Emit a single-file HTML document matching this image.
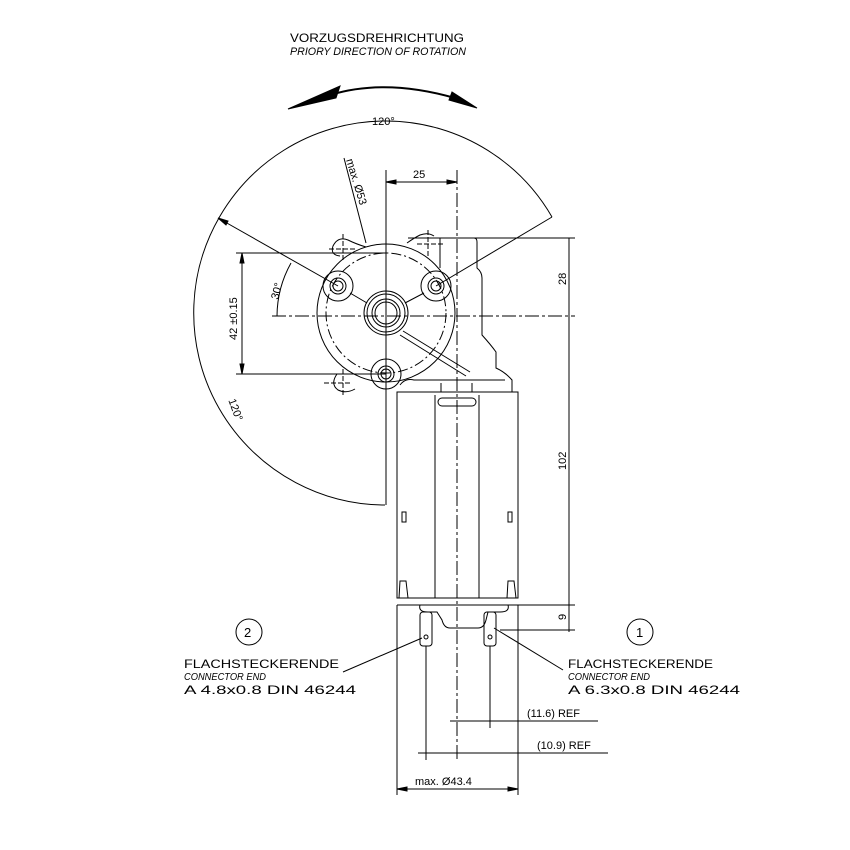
<!DOCTYPE html>
<html><head><meta charset="utf-8"><style>html,body{margin:0;padding:0;background:#fff}svg{display:block}text{font-family:"Liberation Sans",sans-serif;fill:#000}</style></head>
<body>
<svg width="850" height="850" viewBox="0 0 850 850" xmlns="http://www.w3.org/2000/svg" fill="none" stroke="#000" stroke-width="1">
<text x="290" y="42" font-size="12" textLength="174" lengthAdjust="spacingAndGlyphs" stroke="none">VORZUGSDREHRICHTUNG</text>
<text x="290" y="55" font-size="11" font-style="italic" textLength="176" lengthAdjust="spacingAndGlyphs" stroke="none">PRIORY DIRECTION OF ROTATION</text>
<path d="M330,95 Q385,78 455,98" stroke-width="2"/>
<polygon points="288,109 340,86 336,98" fill="#000"/>
<polygon points="477,108 452,92 449,100" fill="#000"/>
<path d="M552,217 A192,192 0 1 0 385,505" />
<text x="372" y="125" font-size="11" stroke="none">120°</text>
<text x="225" y="405" font-size="11" stroke="none" transform="rotate(70 230 405)">120°</text>
<line x1="218" y1="218" x2="338" y2="286"/>
<line x1="436" y1="286" x2="552" y2="217"/>
<polygon points="218,218 228,221 226,225" fill="#000"/>
<line x1="344" y1="158" x2="366" y2="243"/>
<text x="346" y="160" font-size="11" stroke="none" transform="rotate(73 346 160)">max. Ø53</text>
<path d="M291,263 A110,110 0 0 0 277,316"/>
<text x="278" y="300" font-size="11" stroke="none" transform="rotate(-75 278 300)">30°</text>
<circle cx="386" cy="313" r="69"/>
<circle cx="386" cy="313" r="60" stroke-dasharray="10,3,2,3"/>
<circle cx="386" cy="313" r="22"/>
<circle cx="386" cy="313" r="19"/>
<circle cx="386" cy="313" r="14"/>
<circle cx="386" cy="313" r="11"/>
<circle cx="338" cy="286" r="15"/><circle cx="338" cy="286" r="8"/><circle cx="338" cy="286" r="5"/>
<circle cx="436" cy="286" r="15"/><circle cx="436" cy="286" r="8"/><circle cx="436" cy="286" r="5"/>
<circle cx="386" cy="374" r="15"/><circle cx="386" cy="374" r="8"/><circle cx="386" cy="374" r="5"/>
<line x1="350" y1="293" x2="367" y2="303"/><line x1="424" y1="293" x2="405" y2="303"/>
<line x1="386" y1="335" x2="386" y2="359"/>
<line x1="403" y1="331" x2="470" y2="372"/><line x1="400" y1="335" x2="466" y2="376"/>
<!-- lugs -->
<path d="M340,256 Q330,255 333,246 Q338,236 348,240 Q356,244 366,247"/>
<path d="M407,243 Q414,238 420,235 Q428,232 434,236"/>
<path d="M337,374 Q330,384 338,390 Q346,394 355,389"/>
<g stroke-dasharray="5,2">
<line x1="329" y1="249" x2="355" y2="249"/><line x1="343" y1="234" x2="343" y2="262"/>
<line x1="417" y1="244" x2="443" y2="244"/><line x1="428" y1="230" x2="428" y2="256"/>
<line x1="324" y1="383" x2="352" y2="383"/><line x1="343" y1="369" x2="343" y2="397"/>
</g>
<path d="M440,238 H474 Q477,238 477,242 V268 Q482,272 482,278 V335 Q491,345 496,352 V368 Q505,372 512,380 V392"/>
<line x1="440" y1="238" x2="440" y2="268"/>
<path d="M400,385 Q405,378 414,380 H505"/>
<line x1="386" y1="170" x2="386" y2="505"/>
<line x1="457" y1="170" x2="457" y2="760" stroke-dasharray="14,3,3,3"/>
<line x1="272" y1="316" x2="575" y2="316" stroke-dasharray="14,3,3,3"/>
<line x1="236" y1="253" x2="386" y2="253"/>
<line x1="236" y1="374" x2="386" y2="374"/>
<line x1="408" y1="238" x2="575" y2="238"/>
<line x1="386" y1="182" x2="457" y2="182"/><text x="413" y="178" font-size="11" stroke="none">25</text>
<polygon points="386,182 396,180 396,184" fill="#000"/><polygon points="457,182 447,180 447,184" fill="#000"/>
<line x1="242" y1="253" x2="242" y2="374"/>
<polygon points="242,253 240,263 244,263" fill="#000"/><polygon points="242,374 240,364 244,364" fill="#000"/>
<text x="237" y="340" font-size="11" stroke="none" transform="rotate(-90 237 340)">42 ±0.15</text>
<line x1="569" y1="238" x2="569" y2="632"/>
<text x="566" y="285" font-size="11" stroke="none" transform="rotate(-90 566 285)">28</text>
<text x="566" y="470" font-size="11" stroke="none" transform="rotate(-90 566 470)">102</text>
<text x="566" y="620" font-size="11" stroke="none" transform="rotate(-90 566 620)">9</text>
<line x1="510" y1="605" x2="575" y2="605"/><line x1="500" y1="630" x2="575" y2="630"/>
<rect x="397" y="392" width="121" height="206"/>
<line x1="397" y1="605" x2="397" y2="795"/><line x1="518" y1="605" x2="518" y2="795"/>
<line x1="435" y1="395" x2="435" y2="598"/><line x1="479" y1="395" x2="479" y2="598"/>
<rect x="438" y="398" width="38" height="8" rx="4"/>
<line x1="441" y1="383" x2="441" y2="392"/><line x1="472" y1="383" x2="472" y2="392"/>
<rect x="402" y="512" width="4" height="10"/><rect x="508" y="512" width="4" height="10"/>
<line x1="397" y1="598" x2="518" y2="598"/><line x1="397" y1="605" x2="518" y2="605"/>
<path d="M399,598 L400,581 H406 L408,598"/><path d="M507,598 L508,581 H514 L516,598"/>
<path d="M420,605 Q418,612 428,612 H437 L442,620 Q444,628 450,628 H478 Q484,628 486,620 L488,612 H500 Q510,612 508,605"/>
<rect x="420" y="612" width="12" height="34" rx="3"/>
<rect x="484" y="612" width="12" height="34" rx="3"/>
<circle cx="426" cy="637" r="2"/><circle cx="490" cy="637" r="2"/>
<line x1="426" y1="646" x2="426" y2="760"/><line x1="490" y1="646" x2="490" y2="728"/>
<line x1="450" y1="721" x2="598" y2="721"/><text x="527" y="717" font-size="11" stroke="none">(11.6) REF</text>
<line x1="418" y1="753" x2="608" y2="753"/><text x="537" y="749" font-size="11" stroke="none">(10.9) REF</text>
<line x1="397" y1="789" x2="518" y2="789"/><text x="415" y="785" font-size="11" stroke="none">max. Ø43.4</text>
<polygon points="397,789 407,787 407,791" fill="#000"/><polygon points="518,789 508,787 508,791" fill="#000"/>
<circle cx="249" cy="632" r="13"/><text x="244" y="637" font-size="13" stroke="none">2</text>
<circle cx="640" cy="632" r="13"/><text x="636" y="637" font-size="13" stroke="none">1</text>
<line x1="343" y1="672" x2="422" y2="638"/>
<line x1="563" y1="670" x2="494" y2="628"/>
<text x="184" y="668" font-size="12" textLength="155" lengthAdjust="spacingAndGlyphs" stroke="none">FLACHSTECKERENDE</text>
<text x="184" y="680" font-size="10" font-style="italic" textLength="82" lengthAdjust="spacingAndGlyphs" stroke="none">CONNECTOR END</text>
<text x="184" y="694" font-size="12" textLength="172" lengthAdjust="spacingAndGlyphs" stroke="none">A 4.8x0.8 DIN 46244</text>
<text x="568" y="668" font-size="12" textLength="145" lengthAdjust="spacingAndGlyphs" stroke="none">FLACHSTECKERENDE</text>
<text x="568" y="680" font-size="10" font-style="italic" textLength="82" lengthAdjust="spacingAndGlyphs" stroke="none">CONNECTOR END</text>
<text x="568" y="694" font-size="12" textLength="172" lengthAdjust="spacingAndGlyphs" stroke="none">A 6.3x0.8 DIN 46244</text>
</svg>
</body></html>
